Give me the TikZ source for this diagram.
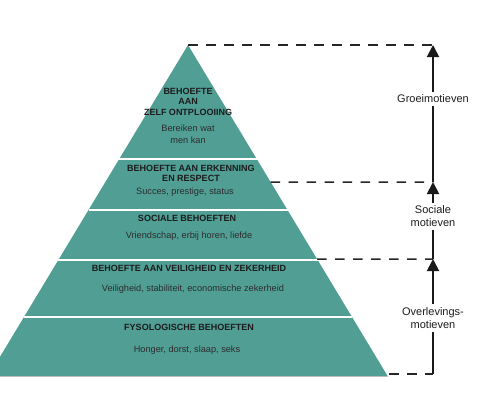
\documentclass[tikz,border=0pt]{standalone}
\usepackage{fontspec}
\setmainfont{Liberation Sans}
\usetikzlibrary{arrows.meta,calc}
\definecolor{pyr}{RGB}{80,158,148}
\definecolor{ttl}{RGB}{28,28,28}
\definecolor{bod}{RGB}{45,45,45}
\tikzset{
  ttlnode/.style={text=ttl, align=center, inner sep=0pt, font=\fontsize{9bp}{10.5bp}\selectfont\bfseries},
  bodnode/.style={text=bod, align=center, inner sep=0pt, font=\fontsize{9.2bp}{12bp}\selectfont},
  sepline/.style={white, line width=1.5bp},
  guide/.style={black!85, line width=1.5bp, dash pattern=on 9.5bp off 8.5bp},
  motarrow/.style={black!90, line width=1.9bp, -{Triangle[width=12bp,length=12bp]}},
  motlabel/.style={fill=white, align=center, inner xsep=1bp, inner ysep=3bp, text=ttl, font=\fontsize{11bp}{13bp}\selectfont}
}
\begin{document}
\begin{tikzpicture}[x=1bp,y=-1bp]
\useasboundingbox (0,0) rectangle (495,400);
\clip (0,0) rectangle (495,400);
\coordinate (apex) at (188,45);
\coordinate (bl) at (-11.6,376);
\coordinate (br) at (387.6,376);
\fill[pyr] (apex) -- (br) -- (bl) -- cycle;
\draw[black!25, line width=0.8bp] (bl) -- (br);
% separators
\path ($(apex)!0.3444!(bl)$) coordinate (L1) ($(apex)!0.3444!(br)$) coordinate (R1);
\path ($(apex)!0.4985!(bl)$) coordinate (L2) ($(apex)!0.4985!(br)$) coordinate (R2);
\path ($(apex)!0.6495!(bl)$) coordinate (L3) ($(apex)!0.6495!(br)$) coordinate (R3);
\path ($(apex)!0.8218!(bl)$) coordinate (L4) ($(apex)!0.8218!(br)$) coordinate (R4);
\draw[sepline] (L1) -- (R1);
\draw[sepline] (L2) -- (R2);
\draw[sepline] (L3) -- (R3);
\draw[sepline] (L4) -- (R4);
% guide points
\path ($(apex)!0.4139!(br)$) coordinate (E2);
\path ($(apex)!0.6465!(br)$) coordinate (E3);
\coordinate (E4) at (389,374);
\coordinate (A1) at (433,45);
\coordinate (A2) at (433,182);
\coordinate (A3) at (433,259);
\coordinate (A4) at (433,374);
\draw[guide] (apex) -- (A1);
\draw[guide] (E2) -- (A2);
\draw[guide] (E3) -- (A3);
\draw[guide] (E4) -- (A4);
% arrows
\draw[motarrow] (A4) -- (A3);
\draw[motarrow] (A3) -- (A2);
\draw[motarrow] (A2) -- (A1);
\node[motlabel] (m1) at (433,99) {Groeimotieven};
\node[motlabel] (m2) at (433,216.5) {Sociale\\motieven};
\node[motlabel] (m3) at (433,318) {Overlevings-\\motieven};
% texts
\node[ttlnode] (t1) at (188,101.5) {BEHOEFTE\\AAN\\ZELF ONTPLOOIING};
\node[bodnode] (b1) at (188,134) {Bereiken wat\\men kan};
\node[ttlnode] (t2) at (191,173.5) {BEHOEFTE AAN ERKENNING\\EN RESPECT};
\node[bodnode] (b2) at (185,192) {Succes, prestige, status};
\node[ttlnode] (t3) at (187,218) {SOCIALE BEHOEFTEN};
\node[bodnode] (b3) at (189,236) {Vriendschap, erbij horen, liefde};
\node[ttlnode] (t4) at (189,268) {BEHOEFTE AAN VEILIGHEID EN ZEKERHEID};
\node[bodnode] (b4) at (193,289) {Veiligheid, stabiliteit, economische zekerheid};
\node[ttlnode] (t5) at (189,327) {FYSOLOGISCHE BEHOEFTEN};
\node[bodnode] (b5) at (187,350) {Honger, dorst, slaap, seks};
\end{tikzpicture}
\end{document}
